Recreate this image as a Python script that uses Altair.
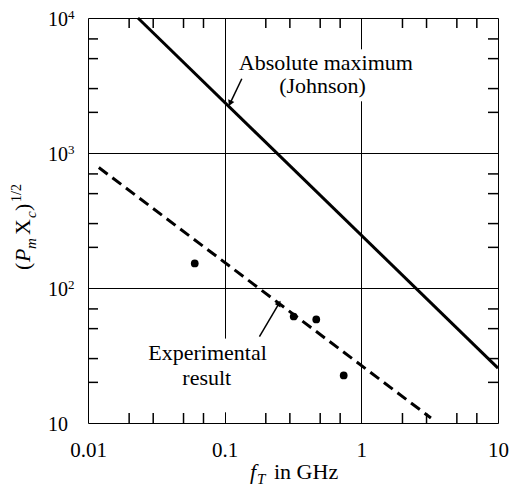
import altair as alt
import pandas as pd

# ---------------- data ----------------
johnson_fT = [0.0232, 10.0]
johnson_val = [10000, 25.5]
exp_fT = [0.012, 3.23]
exp_val = [780, 10.9]
pts_fT = [0.0604, 0.32, 0.468, 0.743]
pts_val = [152, 61.5, 58.5, 22.5]
x_major = [0.01, 0.1, 1, 10]
y_major = [10, 100, 1000, 10000]
y_exponents = ["", "2", "3", "4"]
minor_mult = [2, 3, 5, 7]

W, H = 410, 405
SERIF = "'Liberation Serif', 'Times New Roman', 'DejaVu Serif', serif"

xs = alt.Scale(type="log", domain=[0.01, 10], nice=False)
ys = alt.Scale(type="log", domain=[10, 10000], nice=False)

x_minor = [d * m for d in x_major[:-1] for m in minor_mult]
y_minor = [d * m for d in y_major[:-1] for m in minor_mult]

df_j = pd.DataFrame({"x": johnson_fT, "y": johnson_val})
df_e = pd.DataFrame({"x": exp_fT, "y": exp_val})
df_p = pd.DataFrame({"x": pts_fT, "y": pts_val})
df_xm = pd.DataFrame({"x": x_minor})
df_ym = pd.DataFrame({"y": y_minor})
df_ylab = pd.DataFrame({"y": y_major, "base": ["10"] * 4, "exp": y_exponents})

# annotations (data coordinates)
df_txt = pd.DataFrame({
    "x": [0.55, 0.52, 0.075, 0.074],
    "y": [4650, 3150, 33.2, 21.6],
    "t": ["Absolute maximum", "(Johnson)", "Experimental", "result"],
})
df_arrow = pd.DataFrame({
    "x": [0.1335, 0.1797], "y": [3546, 43.6],
    "x2": [0.1095, 0.25], "y2": [2334, 77],
    "ang": [205, 31],
})
df_gap = pd.DataFrame({
    "x": [0.97, 0.097], "x2": [1.03, 0.103],
    "y": [2415, 12.0], "y2": [5863, 42.2],
})

X = lambda: alt.X("x:Q", scale=xs, axis=alt.Axis(
    values=x_major, format="~g", grid=True, gridColor="black", gridWidth=1,
    gridOpacity=1, ticks=False, tickSize=0, domain=False, labelFont=SERIF,
    labelFontSize=21, labelColor="black", labelPadding=16, labelFlush=False,
    title=None))
Y = lambda: alt.Y("y:Q", scale=ys, axis=alt.Axis(
    values=y_major, grid=True, gridColor="black", gridWidth=1, gridOpacity=1,
    ticks=False, domain=False, labels=False, title=None))

base = alt.Chart(df_j).mark_line(color="black", strokeWidth=3).encode(x=X(), y=Y())

gaps = alt.Chart(df_gap).mark_rect(color="white").encode(
    x=alt.X("x:Q", scale=xs), x2="x2:Q", y=alt.Y("y:Q", scale=ys), y2="y2:Q")

tick_b = alt.Chart(df_xm).mark_rule(color="black", strokeWidth=1.5).encode(
    x=alt.X("x:Q", scale=xs), y=alt.value(H), y2=alt.value(H - 10))
tick_t = alt.Chart(df_xm).mark_rule(color="black", strokeWidth=1.5).encode(
    x=alt.X("x:Q", scale=xs), y=alt.value(0), y2=alt.value(10))
tick_l = alt.Chart(df_ym).mark_rule(color="black", strokeWidth=1.5).encode(
    y=alt.Y("y:Q", scale=ys), x=alt.value(0), x2=alt.value(10))
tick_r = alt.Chart(df_ym).mark_rule(color="black", strokeWidth=1.5).encode(
    y=alt.Y("y:Q", scale=ys), x=alt.value(W), x2=alt.value(W - 10))

dashed = alt.Chart(df_e).mark_line(color="black", strokeWidth=3, strokeDash=[11, 6]).encode(
    x=alt.X("x:Q", scale=xs), y=alt.Y("y:Q", scale=ys))
points = alt.Chart(df_p).mark_circle(color="black", size=60, opacity=1).encode(
    x=alt.X("x:Q", scale=xs), y=alt.Y("y:Q", scale=ys))

arrow_line = alt.Chart(df_arrow).mark_rule(color="black", strokeWidth=1.5).encode(
    x=alt.X("x:Q", scale=xs), y=alt.Y("y:Q", scale=ys), x2="x2:Q", y2="y2:Q")
arrow_head = alt.Chart(df_arrow).mark_point(shape="triangle-up", filled=True, color="black",
                                            size=45, opacity=1).encode(
    x=alt.X("x2:Q", scale=xs), y=alt.Y("y2:Q", scale=ys),
    angle=alt.Angle("ang:Q", scale=None))

texts = alt.Chart(df_txt).mark_text(font=SERIF, fontSize=22, color="black",
                                    align="center", baseline="middle").encode(
    x=alt.X("x:Q", scale=xs), y=alt.Y("y:Q", scale=ys), text="t:N")

ylab_base = alt.Chart(df_ylab).mark_text(font=SERIF, fontSize=20, color="black",
                                         align="right", baseline="middle", dy=2).encode(
    y=alt.Y("y:Q", scale=ys), x=alt.value(-20), text="base:N")
ylab_exp = alt.Chart(df_ylab).mark_text(font=SERIF, fontSize=13, color="black",
                                        align="left", baseline="middle", dy=-3).encode(
    y=alt.Y("y:Q", scale=ys), x=alt.value(-20), text="exp:N")

one = pd.DataFrame({"a": [0]})


def piece(txt, px, py, size, style="normal", angle=0):
    kw = dict(text=txt, font=SERIF, fontSize=size, color="black", align="left",
              baseline="alphabetic", fontStyle=style)
    if angle:
        kw["angle"] = angle
    return alt.Chart(one).mark_text(**kw).encode(x=alt.value(px), y=alt.value(py))


ytitle = [
    piece("(", -58, 252, 22, angle=270),
    piece("P", -58, 244, 22, "italic", angle=270),
    piece("m", -52, 231, 15, "italic", angle=270),
    piece("X", -58, 217, 22, angle=270),
    piece("c", -52, 200, 15, "italic", angle=270),
    piece(")", -58, 193, 22, angle=270),
    piece("1/2", -67, 184, 14, angle=270),
]
xtitle = [
    piece("f", 162, 461, 22, "italic"),
    piece("T", 169, 466, 15, "italic"),
    piece("in GHz", 186, 461, 22),
]

chart = alt.layer(
    base, gaps, tick_b, tick_t, tick_l, tick_r, dashed, points, arrow_line, arrow_head,
    texts, ylab_base, ylab_exp, *ytitle, *xtitle
).properties(
    width=W, height=H,
    autosize=alt.AutoSizeParams(type="none"),
    padding={"left": 80, "top": 10, "right": 11, "bottom": 63},
).configure_view(stroke="black", strokeWidth=2.5).configure(background="white")

chart.save("out.html", embed_options={"renderer": "svg", "actions": False})
